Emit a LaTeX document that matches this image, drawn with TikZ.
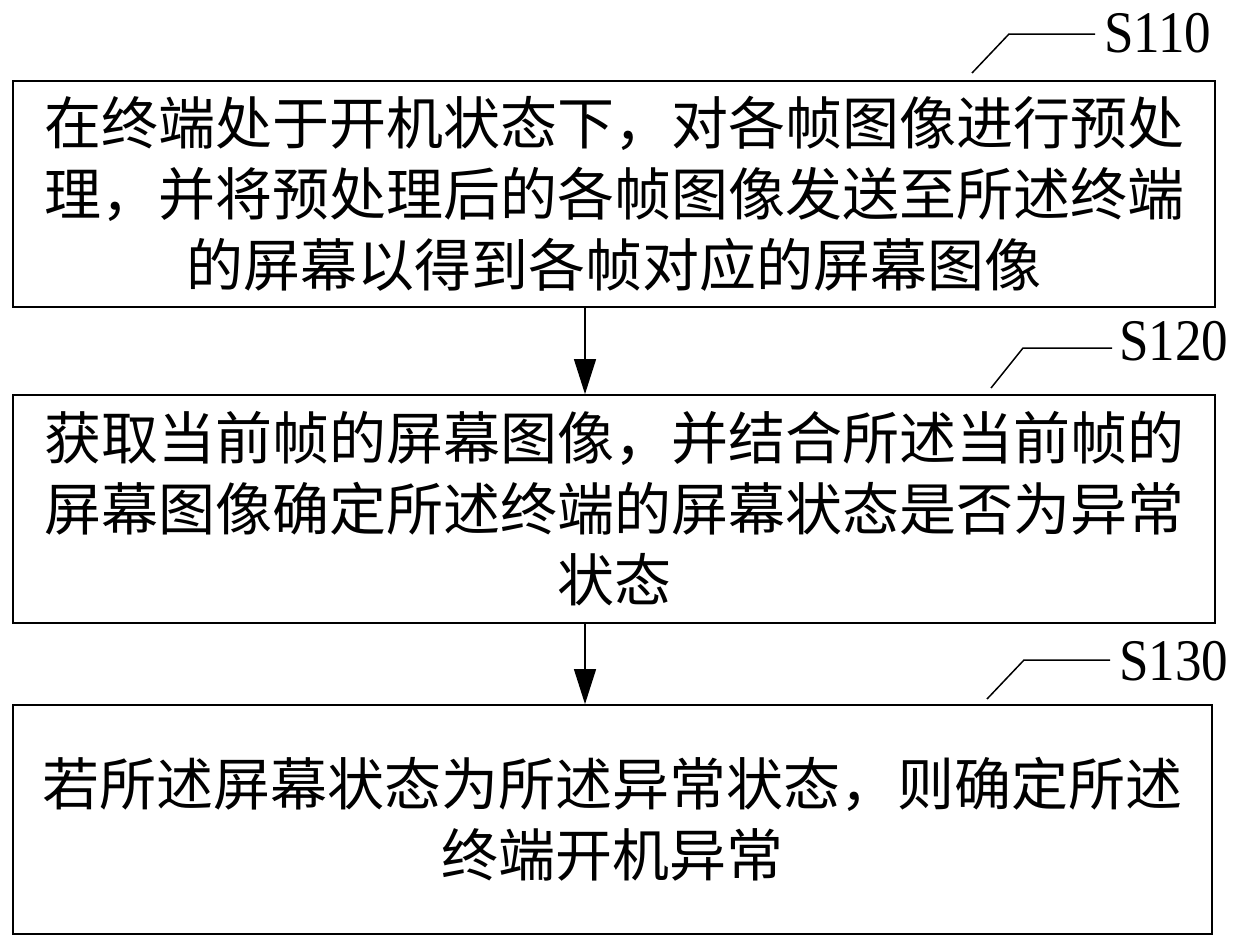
\documentclass[tikz,border=0pt]{standalone}
\usepackage{fontspec}
\setmainfont{Liberation Serif}
\newfontfamily\cjk{Noto Sans CJK SC}
\usetikzlibrary{arrows.meta}
\tikzset{
  stepbox/.style={draw, line width=1.8pt, align=center, inner sep=0pt,
    font=\cjk\fontsize{57}{71}\selectfont},
  flowarrow/.style={line width=1.3pt, -{Triangle[length=35pt,width=22pt]}},
  leader/.style={line width=1.5pt},
  steplabel/.style={anchor=base west, inner sep=0pt, font=\fontsize{59}{59}\selectfont}
}
\begin{document}
\begin{tikzpicture}[x=1pt,y=-1pt]
\useasboundingbox (0,0) rectangle (1249,948);
\node[stepbox, minimum width=1202pt, minimum height=226pt] (b1) at (614,194)
  {在终端处于开机状态下，对各帧图像进行预处\\理，并将预处理后的各帧图像发送至所述终端\\的屏幕以得到各帧对应的屏幕图像};
\node[stepbox, minimum width=1202pt, minimum height=228pt] (b2) at (614,509)
  {获取当前帧的屏幕图像，并结合所述当前帧的\\屏幕图像确定所述终端的屏幕状态是否为异常\\状态};
\node[stepbox, minimum width=1199pt, minimum height=229pt] (b3) at (612.5,819.5)
  {若所述屏幕状态为所述异常状态，则确定所述\\终端开机异常};
\coordinate (ax) at (585,0);
\draw[flowarrow] (b1.south -| ax) -- (b2.north -| ax);
\draw[flowarrow] (b2.south -| ax) -- (b3.north -| ax);
% labels
\node[steplabel] (l1) at (1104,52) {\scalebox{0.9}[1]{S110}};
\node[steplabel] (l2) at (1119,360) {\scalebox{0.9}[1]{S120}};
\node[steplabel] (l3) at (1119,680) {\scalebox{0.9}[1]{S130}};
\coordinate (k1a) at (972,73); \coordinate (k1b) at (1009,34); \coordinate (k1c) at (1095,34);
\coordinate (k2a) at (991,388); \coordinate (k2b) at (1023,348); \coordinate (k2c) at (1112,348);
\coordinate (k3a) at (987,699); \coordinate (k3b) at (1024,660); \coordinate (k3c) at (1110,660);
\draw[leader] (k1a) -- (k1b) -- (k1c);
\draw[leader] (k2a) -- (k2b) -- (k2c);
\draw[leader] (k3a) -- (k3b) -- (k3c);
\end{tikzpicture}
\end{document}
